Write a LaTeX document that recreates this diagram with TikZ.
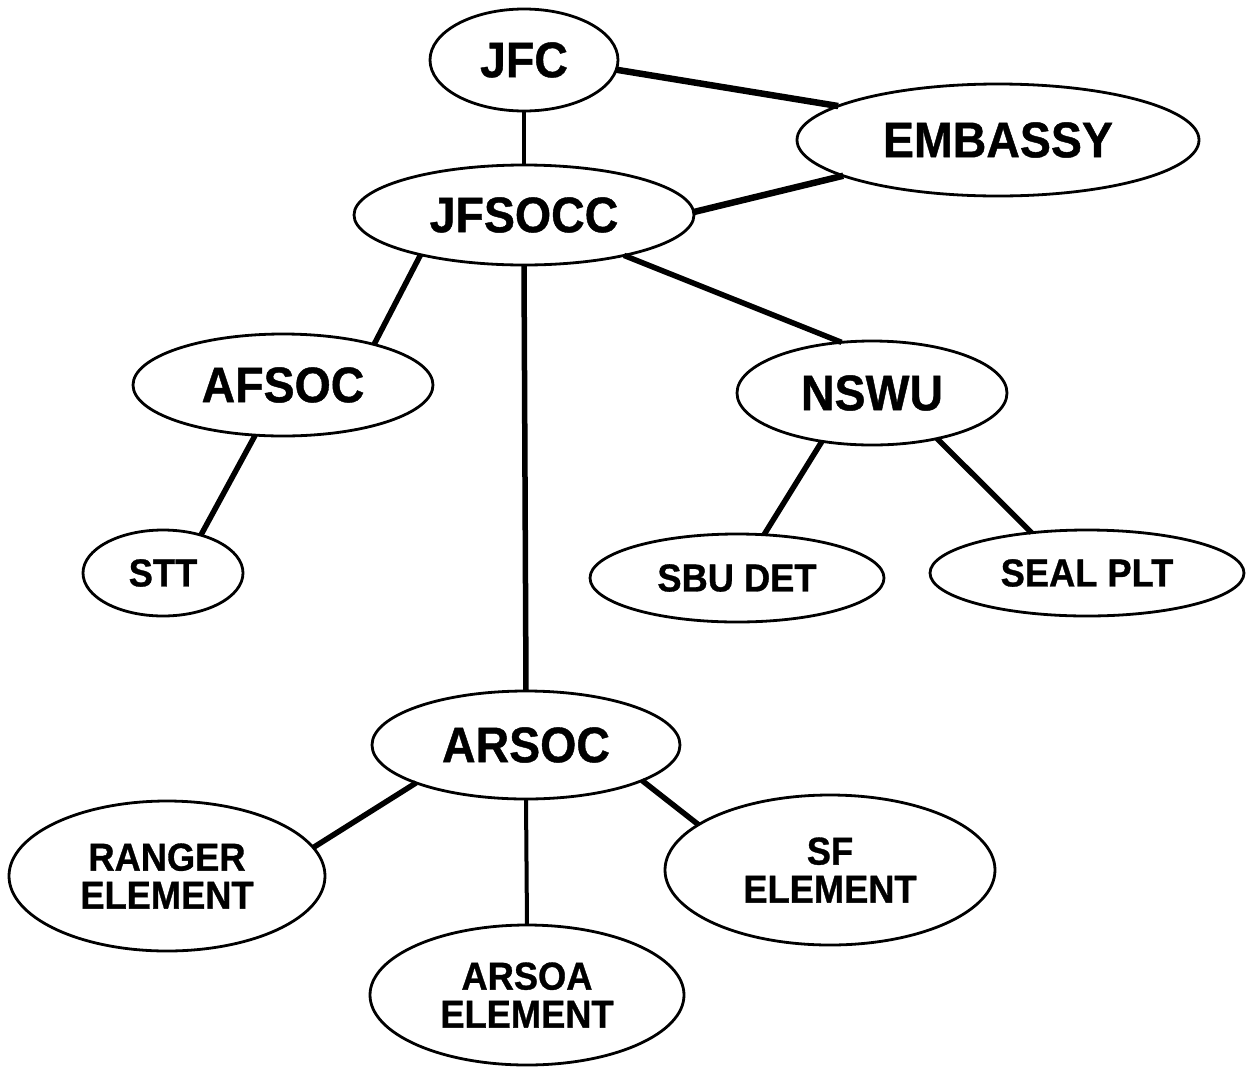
\documentclass[tikz,border=0pt]{standalone}
\usepackage{fontspec}
\setmainfont{Liberation Sans}[FakeStretch=0.93, BoldFeatures={FakeBold=0.8}]
\usetikzlibrary{shapes.geometric}
\tikzset{
  org/.style={ellipse, draw=black, line width=2.8pt, inner sep=0pt, outer sep=0pt, align=center,
    font=\bfseries\fontsize{50}{55}\selectfont},
  orgsmall/.style={org, font=\bfseries\fontsize{39}{38}\selectfont},
  link/.style={line width=5.5pt},
  linkthick/.style={line width=6.5pt},
  linkthin/.style={line width=4pt},
}
\begin{document}
\begin{tikzpicture}[x=1pt,y=-1pt]
\useasboundingbox[fill=white] (0,0) rectangle (1259,1069);
\node[org, minimum width=188pt, minimum height=102pt] (jfc) at (524,60) {JFC};
\node[org, minimum width=402pt, minimum height=112pt] (emb) at (998,140) {EMBASSY};
\node[org, minimum width=340pt, minimum height=100pt] (jfsocc) at (524,215) {JFSOCC};
\node[org, minimum width=300pt, minimum height=102pt] (afsoc) at (283,385) {AFSOC};
\node[org, minimum width=270pt, minimum height=104pt] (nswu) at (872,393) {NSWU};
\node[orgsmall, minimum width=160pt, minimum height=86pt] (stt) at (163,573) {STT};
\node[orgsmall, minimum width=294pt, minimum height=88pt] (sbu) at (737,578) {SBU DET};
\node[orgsmall, minimum width=314pt, minimum height=86pt] (seal) at (1087,573) {SEAL PLT};
\node[org, minimum width=308pt, minimum height=108pt] (arsoc) at (526,745) {ARSOC};
\node[orgsmall, minimum width=316pt, minimum height=150pt] (ranger) at (167,876) {RANGER\\ELEMENT};
\node[orgsmall, minimum width=330pt, minimum height=150pt] (sf) at (830,870) {SF\\ELEMENT};
\node[orgsmall, minimum width=314pt, minimum height=140pt] (arsoa) at (527,995) {ARSOA\\ELEMENT};

\draw[linkthick] (jfc.-6) -- (emb.168);
\draw[linkthin] (jfc.south) -- (jfsocc.north);
\draw[linkthick] (jfsocc.1) -- (emb.193);
\draw[link] (jfsocc.201) -- (afsoc.24);
\draw[link] (jfsocc.south) -- (arsoc.north);
\draw[link] (jfsocc.-22) -- (nswu.121);
\draw[link] (afsoc.-119) -- (stt.45);
\draw[link] (nswu.-136) -- (sbu.58);
\draw[link] (nswu.-35) -- (seal.144);
\draw[link] (arsoc.199) -- (ranger.11);
\draw[linkthin] (arsoc.south) -- (arsoa.north);
\draw[link] (arsoc.-17) -- (sf.161);
\end{tikzpicture}
\end{document}
